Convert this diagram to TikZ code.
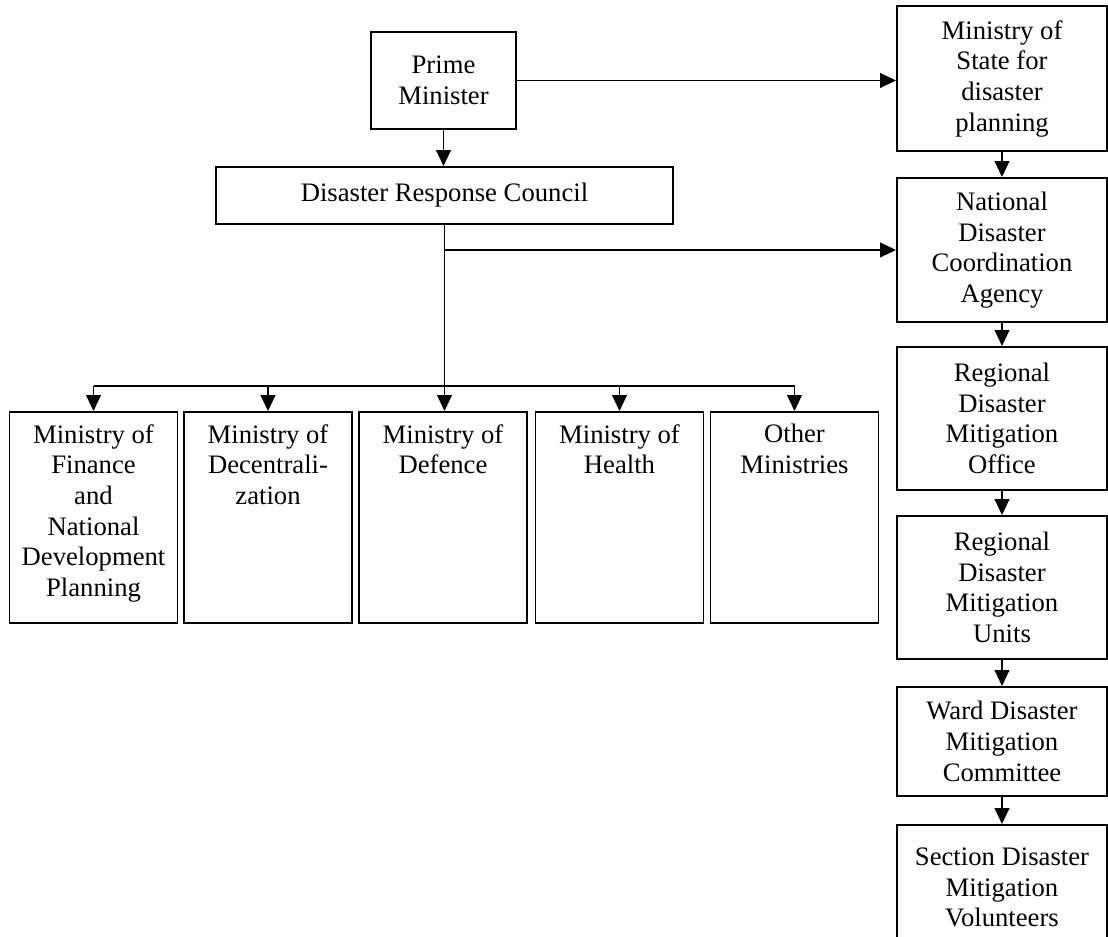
\documentclass[tikz,border=0pt]{standalone}
\usepackage{fontspec}
\setmainfont{Liberation Serif}
\usepackage{tikz}
\usetikzlibrary{arrows.meta, positioning, calc}

\begin{document}
\begin{tikzpicture}[x=0.75pt, y=-0.75pt,
    orgbox/.style={rectangle, draw=black, line width=1.4pt, inner sep=0pt, align=center,
                   font=\fontsize{20}{23}\selectfont},
    colbox/.style={orgbox, minimum width=157.5pt},
    minbox/.style={orgbox, minimum width=126pt, minimum height=158.25pt},
    mintext/.style={inner sep=0pt, align=center, anchor=north, font=\fontsize{20}{23}\selectfont},
    arr/.style={-{Triangle[width=11pt, length=12pt]}, line width=1.4pt},
    link/.style={line width=1.4pt},
]
\useasboundingbox (0,0) rectangle (1108,937);

% Top of the hierarchy
\node[orgbox, minimum width=108.75pt, minimum height=72.75pt] (pm) at (443.5, 80.5) {Prime\\Minister};
\node[orgbox, minimum width=342.75pt, minimum height=42.75pt] (drc) at (444.5, 195.5) {Disaster Response Council};

% Right column
\node[colbox, minimum height=108.75pt] (msd) at (1002, 78.5) {Ministry of\\State for\\disaster\\planning};
\node[colbox, minimum height=108pt] (ndca) at (1002, 250) {National\\Disaster\\Coordination\\Agency};
\node[colbox, minimum height=107.25pt] (rdmo) at (1002, 418.5) {Regional\\Disaster\\Mitigation\\Office};
\node[colbox, minimum height=107.25pt] (rdmu) at (1002, 587.5) {Regional\\Disaster\\Mitigation\\Units};
\node[colbox, minimum height=81.75pt] (wdmc) at (1002, 741.5) {Ward Disaster\\Mitigation\\Committee};
\node[colbox, minimum height=93.75pt] (sdmv) at (1002, 887.5) {Section Disaster\\Mitigation\\Volunteers};

% Ministries
\node[minbox] (fin) at (93.5, 517.5) {};
\node[minbox] (dec) at (268, 517.5) {};
\node[minbox] (def) at (443, 517.5) {};
\node[minbox] (hlth) at (619.5, 517.5) {};
\node[minbox] (oth) at (794.5, 517.5) {};

\node[mintext] (fin-t) at ([yshift=-9.75pt]fin.north) {Ministry of\\Finance\\and\\National\\Development\\Planning};
\node[mintext] (dec-t) at ([yshift=-9.75pt]dec.north) {Ministry of\\Decentrali-\\zation};
\node[mintext] (def-t) at ([yshift=-9.75pt]def.north) {Ministry of\\Defence};
\node[mintext] (hlth-t) at ([yshift=-9.75pt]hlth.north) {Ministry of\\Health};
\node[mintext] (oth-t) at ([yshift=-9.75pt]oth.north) {Other\\Ministries};

% Arrows from the top
\draw[arr] (pm.east) -- (pm.east -| msd.west);
\draw[arr] (pm.south) -- (pm.south |- drc.north);
\draw[arr] (drc.south) -- (drc.south |- def.north);
\draw[arr] (drc.south |- ndca.west) -- (ndca.west);

% Bus to the ministries
\coordinate (bus) at (444, 386);
\draw[link] (fin.north |- bus) -- (oth.north |- bus);
\foreach \m in {fin, dec, hlth, oth}
  \draw[arr] (\m.north |- bus) -- (\m.north);

% Right column chain
\foreach \a/\b in {msd/ndca, ndca/rdmo, rdmo/rdmu, rdmu/wdmc, wdmc/sdmv}
  \draw[arr] (\a.south) -- (\b.north);

\end{tikzpicture}
\end{document}
